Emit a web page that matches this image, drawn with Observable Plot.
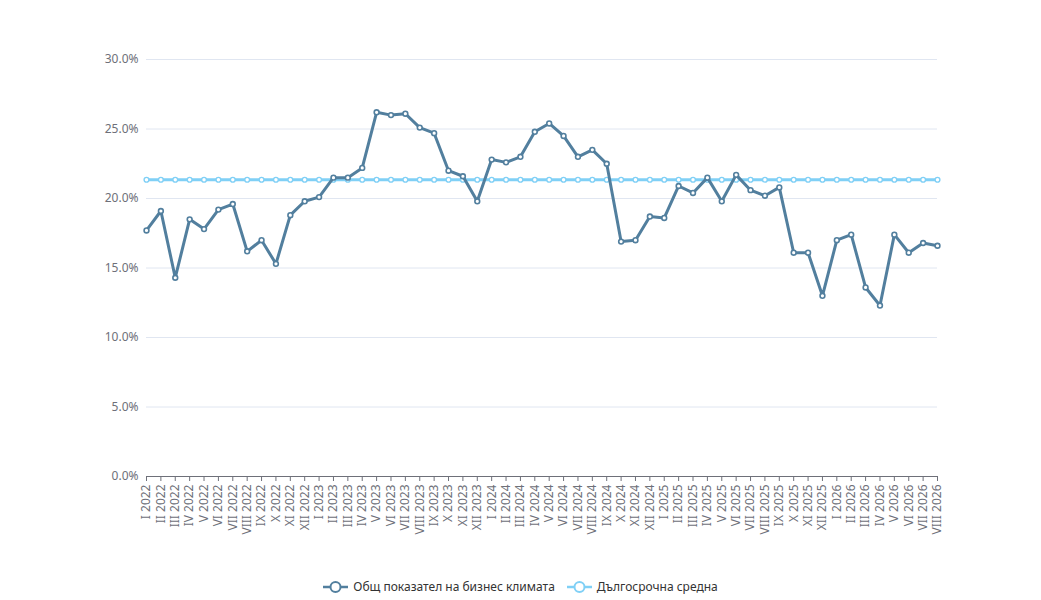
<!DOCTYPE html>
<html>
<head>
<meta charset="utf-8">
<script src="https://cdn.jsdelivr.net/npm/d3@7"></script>
<script src="https://cdn.jsdelivr.net/npm/@observablehq/plot@0.6"></script>
<style>
  body { margin: 0; background: #fff; font-family: "Noto Sans", sans-serif; }
  #chart { width: 1041px; }
  .legend { display: flex; justify-content: center; align-items: center; gap: 12px; font-size: 12px; color: #333; margin-top: 18px; }
  .legend .item { display: flex; align-items: center; gap: 5px; }
</style>
</head>
<body>
<div id="chart"></div>
<script>
const months = ["I","II","III","IV","V","VI","VII","VIII","IX","X","XI","XII"];
const categories = [];
for (const y of [2022, 2023, 2024, 2025, 2026]) {
  for (const m of months) {
    if (y === 2026 && months.indexOf(m) > 7) break;
    categories.push(m + " " + y);
  }
}
const businessClimate = [
  17.7, 19.1, 14.3, 18.5, 17.8, 19.2, 19.6, 16.2, 17.0, 15.3, 18.8, 19.8,
  20.1, 21.5, 21.5, 22.2, 26.2, 26.0, 26.1, 25.1, 24.7, 22.0, 21.6, 19.8,
  22.8, 22.6, 23.0, 24.8, 25.4, 24.5, 23.0, 23.5, 22.5, 16.9, 17.0, 18.7,
  18.6, 20.9, 20.4, 21.5, 19.8, 21.7, 20.6, 20.2, 20.8, 16.1, 16.1, 13.0,
  17.0, 17.4, 13.6, 12.3, 17.4, 16.1, 16.8, 16.6
];
const longTermAverage = 21.35;
const yTicks = [0, 5, 10, 15, 20, 25, 30];

const seriesNames = ["Общ показател на бизнес климата", "Дългосрочна средна"];
const seriesColors = ["#527f9e", "#80d0f6"];

const data1 = categories.map((c, i) => ({ cat: c, v: businessClimate[i] }));
const data2 = categories.map(c => ({ cat: c, v: longTermAverage }));

const chart = Plot.plot({
  width: 1041,
  height: 560,
  marginTop: 59,
  marginBottom: 84,
  marginLeft: 146,
  marginRight: 104,
  style: { fontFamily: "'Noto Sans', sans-serif", fontSize: "12px", color: "#6e7079" },
  x: { type: "point", domain: categories, padding: 0, round: false, label: null },
  y: { domain: [0, 30], label: null },
  marks: [
    Plot.gridY(yTicks.filter(d => d > 0), { stroke: "#e0e6f1", strokeOpacity: 1 }),
    Plot.axisY(yTicks, { tickSize: 0, tickPadding: 8, tickFormat: d => d.toFixed(1) + "%", fill: "#6e7079", fontSize: 12 }),
    Plot.axisX({ tickRotate: -90, tickSize: 5, tickPadding: 3, stroke: "#6e7079", fill: "#6e7079", fontSize: 12 }),
    Plot.ruleY([0], { stroke: "#6e7079" }),
    Plot.line(data2, { x: "cat", y: "v", stroke: seriesColors[1], strokeWidth: 3 }),
    Plot.dot(data2, { x: "cat", y: "v", r: 2.4, fill: "#fff", stroke: seriesColors[1], strokeWidth: 1.4 }),
    Plot.line(data1, { x: "cat", y: "v", stroke: seriesColors[0], strokeWidth: 3 }),
    Plot.dot(data1, { x: "cat", y: "v", r: 2.4, fill: "#fff", stroke: seriesColors[0], strokeWidth: 1.6 })
  ]
});
document.getElementById("chart").appendChild(chart);

const legend = document.createElement("div");
legend.className = "legend";
seriesNames.forEach((name, i) => {
  const item = document.createElement("div");
  item.className = "item";
  item.innerHTML = `<svg width="25" height="14"><line x1="0" y1="7" x2="25" y2="7" stroke="${seriesColors[i]}" stroke-width="2.5"/><circle cx="12.5" cy="7" r="5" fill="#fff" stroke="${seriesColors[i]}" stroke-width="2"/></svg><span>${name}</span>`;
  legend.appendChild(item);
});
document.getElementById("chart").appendChild(legend);
</script>
</body>
</html>
